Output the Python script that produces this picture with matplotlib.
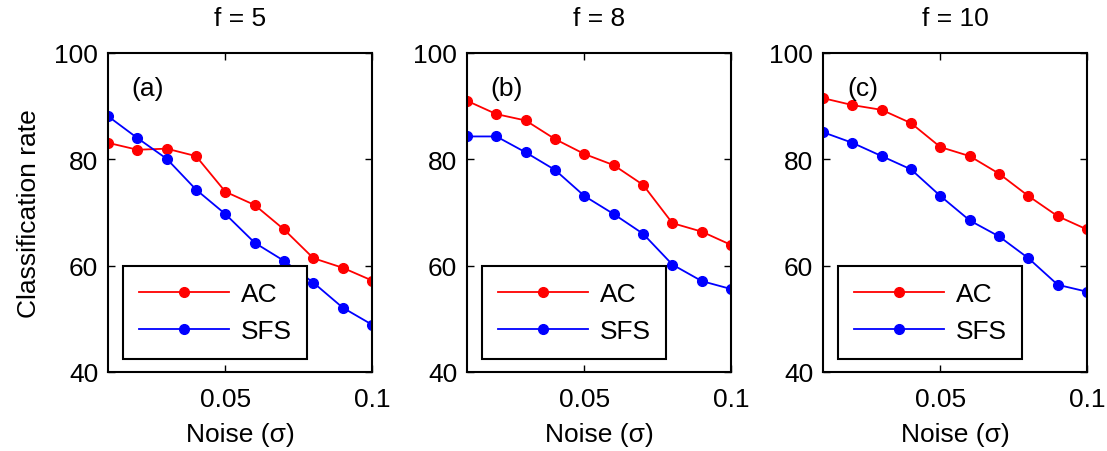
import numpy as np
import matplotlib.pyplot as plt

plt.rcParams['font.family'] = ['Liberation Sans', 'DejaVu Sans']

noise = [0.01, 0.02, 0.03, 0.04, 0.05, 0.06, 0.07, 0.08, 0.09, 0.1]
titles = ['f = 5', 'f = 8', 'f = 10']
tags = ['(a)', '(b)', '(c)']

ac_f5 = [83.1, 81.8, 82.0, 80.6, 73.9, 71.4, 66.8, 61.4, 59.6, 57.2]
sfs_f5 = [88.1, 84.0, 80.1, 74.3, 69.7, 64.3, 60.9, 56.8, 52.1, 48.9]
ac_f8 = [91.0, 88.5, 87.3, 83.8, 81.0, 78.9, 75.2, 68.0, 66.4, 63.9]
sfs_f8 = [84.3, 84.3, 81.3, 78.0, 73.1, 69.7, 66.0, 60.2, 57.1, 55.6]
ac_f10 = [91.5, 90.2, 89.3, 86.8, 82.3, 80.6, 77.3, 73.1, 69.3, 66.8]
sfs_f10 = [85.1, 83.1, 80.6, 78.1, 73.1, 68.5, 65.5, 61.4, 56.4, 55.1]

ac_all = [ac_f5, ac_f8, ac_f10]
sfs_all = [sfs_f5, sfs_f8, sfs_f10]

fs = 19
fig = plt.figure(figsize=(11.07, 4.52), dpi=100)
lefts = [0.0976, 0.4219, 0.7435]

for i in range(3):
    ax = fig.add_axes([lefts[i], 0.1748, 0.2385, 0.7058])
    ax.plot(noise, ac_all[i], color='#ff0000', marker='o', markersize=7, lw=1.3, label='AC')
    ax.plot(noise, sfs_all[i], color='#0000ff', marker='o', markersize=7, lw=1.3, label='SFS')
    ax.set_xlim(0.01, 0.1)
    ax.set_ylim(40, 100)
    ax.set_xticks([0.05, 0.1])
    ax.set_xticklabels(['0.05', '0.1'])
    ax.set_yticks([40, 60, 80, 100])
    ax.tick_params(direction='in', top=True, right=True, length=5, width=1,
                   labelsize=fs, pad=7)
    ax.tick_params(axis='x', pad=11)
    for s in ax.spines.values():
        s.set_linewidth(1.5)
    ax.set_title(titles[i], fontsize=fs, pad=20)
    ax.set_xlabel('Noise (σ)', fontsize=fs, labelpad=8)
    if i == 0:
        ax.set_ylabel('Classification rate', fontsize=fs, labelpad=10)
    ax.text(0.15, 0.89, tags[i], transform=ax.transAxes, fontsize=fs,
            ha='center', va='center')
    leg = ax.legend(loc='lower left', bbox_to_anchor=(0.057, 0.041), fontsize=fs,
                    handlelength=3.4, handletextpad=0.45, borderpad=0.6,
                    labelspacing=0.5, fancybox=False, framealpha=1,
                    edgecolor='black', borderaxespad=0)
    leg.get_frame().set_linewidth(1.5)

fig.savefig('out.png', dpi=100)
